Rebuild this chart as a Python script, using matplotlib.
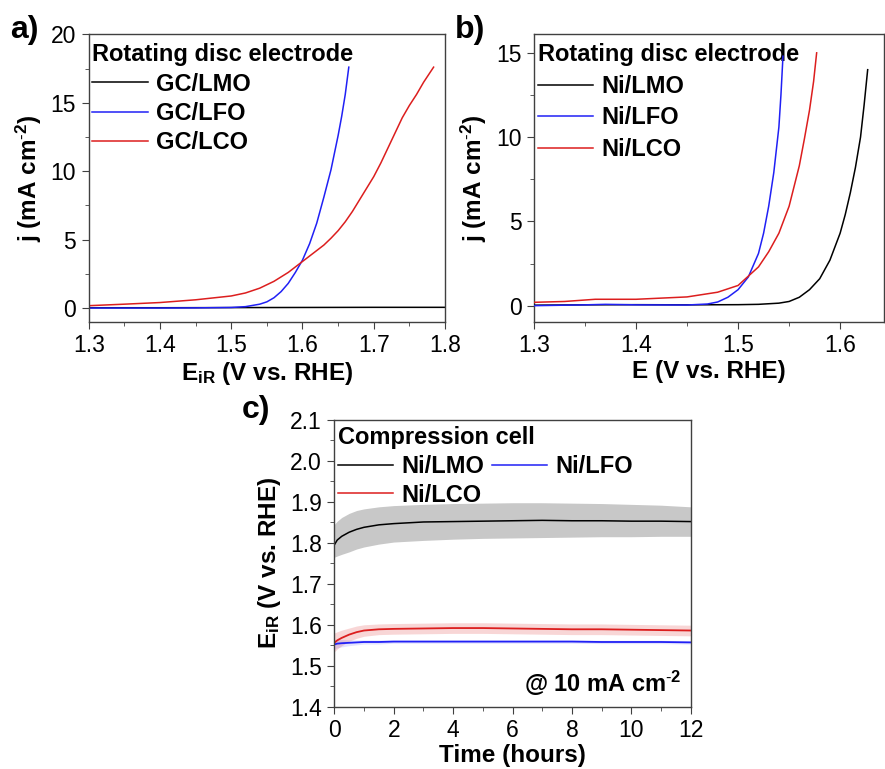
import matplotlib.pyplot as plt
from matplotlib.ticker import MultipleLocator
from matplotlib.lines import Line2D

plt.rcParams.update({
    'font.family': ['Liberation Sans', 'DejaVu Sans'],
    'font.size': 16.5,
    'mathtext.fontset': 'custom',
    'mathtext.rm': 'Liberation Sans',
    'mathtext.bf': 'Liberation Sans:bold',
    'mathtext.it': 'Liberation Sans:italic',
    'axes.linewidth': 1.0,
    'axes.edgecolor': '#404040',
    'xtick.color': '#404040',
    'ytick.color': '#404040',
    'xtick.labelcolor': 'black',
    'ytick.labelcolor': 'black',
    'xtick.labelsize': 16.5,
    'ytick.labelsize': 16.5,
    'xtick.direction': 'out',
    'ytick.direction': 'out',
    'xtick.major.size': 5,
    'ytick.major.size': 5,
    'xtick.minor.size': 3,
    'ytick.minor.size': 3,
    'xtick.major.pad': 4,
    'ytick.major.pad': 4,
})

BLACK = '#000000'
BLUE = '#2020f5'
RED = '#dc1e1e'

# ---- panel a: RDE on glassy carbon ----
a_lmo_E = [1.30, 1.40, 1.50, 1.60, 1.70, 1.80]
a_lmo_j = [0.02, 0.02, 0.03, 0.04, 0.05, 0.05]
a_lfo_E = [1.30, 1.40, 1.45, 1.50, 1.52, 1.54, 1.55, 1.56, 1.57, 1.58, 1.59,
           1.60, 1.61, 1.62, 1.63, 1.64, 1.65, 1.655, 1.66, 1.665]
a_lfo_j = [0.0, 0.0, 0.01, 0.04, 0.10, 0.28, 0.45, 0.75, 1.2, 1.8, 2.6,
           3.5, 4.7, 6.2, 8.1, 10.1, 12.6, 14.0, 15.6, 17.6]
a_lco_E = [1.30, 1.35, 1.40, 1.45, 1.50, 1.52, 1.54, 1.56, 1.58, 1.60, 1.62,
           1.63, 1.64, 1.65, 1.66, 1.67, 1.68, 1.69, 1.70, 1.71, 1.72, 1.73,
           1.74, 1.75, 1.76, 1.77, 1.784]
a_lco_j = [0.17, 0.28, 0.40, 0.60, 0.88, 1.1, 1.45, 1.95, 2.6, 3.4, 4.2,
           4.6, 5.1, 5.65, 6.3, 7.05, 7.9, 8.75, 9.6, 10.6, 11.7, 12.8,
           13.9, 14.8, 15.6, 16.5, 17.6]

# ---- panel b: RDE on Ni ----
b_lmo_E = [1.30, 1.35, 1.40, 1.45, 1.50, 1.52, 1.54, 1.55, 1.56, 1.57, 1.58,
           1.59, 1.60, 1.605, 1.61, 1.615, 1.62, 1.6235, 1.627]
b_lmo_j = [0.03, 0.05, 0.06, 0.05, 0.06, 0.08, 0.15, 0.25, 0.5, 0.95, 1.6,
           2.7, 4.3, 5.4, 6.7, 8.2, 10.0, 11.9, 14.0]
b_lfo_E = [1.30, 1.35, 1.37, 1.40, 1.45, 1.47, 1.48, 1.49, 1.50, 1.51, 1.52,
           1.525, 1.53, 1.535, 1.54, 1.542, 1.544]
b_lfo_j = [0.0, 0.05, 0.08, 0.05, 0.04, 0.10, 0.22, 0.5, 0.95, 1.7, 3.1,
           4.3, 5.9, 7.9, 10.6, 12.5, 14.8]
b_lco_E = [1.30, 1.33, 1.36, 1.40, 1.45, 1.48, 1.50, 1.52, 1.53, 1.54, 1.55,
           1.56, 1.565, 1.57, 1.574, 1.577]
b_lco_j = [0.20, 0.25, 0.38, 0.38, 0.52, 0.80, 1.2, 2.3, 3.2, 4.3, 5.9,
           8.3, 9.9, 11.6, 13.3, 15.0]

# ---- panel c: compression cell, chronopotentiometry ----
c_t = [0, 0.1, 0.25, 0.5, 0.75, 1, 1.5, 2, 3, 4, 5, 6, 7, 8, 9, 10, 11, 12]
lmo_mean = [1.795, 1.807, 1.816, 1.826, 1.833, 1.838, 1.844, 1.847, 1.851, 1.852,
            1.853, 1.854, 1.855, 1.854, 1.854, 1.853, 1.853, 1.852]
lmo_hi = [1.845, 1.853, 1.862, 1.872, 1.879, 1.883, 1.888, 1.891, 1.894, 1.896,
          1.897, 1.898, 1.898, 1.897, 1.896, 1.894, 1.892, 1.888]
lmo_lo = [1.765, 1.768, 1.772, 1.778, 1.785, 1.790, 1.797, 1.802, 1.806, 1.809,
          1.811, 1.812, 1.813, 1.814, 1.815, 1.815, 1.816, 1.816]
lco_mean = [1.556, 1.562, 1.568, 1.576, 1.582, 1.586, 1.589, 1.590, 1.591, 1.592,
            1.592, 1.591, 1.590, 1.589, 1.589, 1.588, 1.587, 1.586]
lco_hi = [1.580, 1.583, 1.587, 1.592, 1.597, 1.600, 1.602, 1.603, 1.604, 1.605,
          1.605, 1.604, 1.603, 1.602, 1.602, 1.601, 1.600, 1.599]
lco_lo = [1.534, 1.541, 1.549, 1.560, 1.567, 1.572, 1.576, 1.577, 1.578, 1.579,
          1.579, 1.578, 1.577, 1.576, 1.576, 1.575, 1.574, 1.573]
lfo_mean = [1.552, 1.554, 1.555, 1.556, 1.557, 1.558, 1.558, 1.559, 1.559, 1.559,
            1.559, 1.559, 1.559, 1.559, 1.558, 1.558, 1.558, 1.557]
lfo_hi = [1.564, 1.564, 1.564, 1.563, 1.563, 1.563, 1.563, 1.563, 1.563, 1.563,
          1.563, 1.563, 1.563, 1.563, 1.562, 1.562, 1.562, 1.561]
lfo_lo = [1.540, 1.544, 1.546, 1.549, 1.551, 1.553, 1.553, 1.555, 1.555, 1.555,
          1.555, 1.555, 1.555, 1.555, 1.554, 1.554, 1.554, 1.553]

fig = plt.figure(figsize=(8.85, 7.69), dpi=100)
W, H = 885, 769

J_LABEL = r'j (mA cm$^{\mathbf{\text{-}2}}$)'
EIR_LABEL = r'$\mathbf{E_{iR}}$ (V vs. RHE)'


def add_ax(left, top, right, bottom):
    return fig.add_axes([left / W, 1 - bottom / H, (right - left) / W, (bottom - top) / H])


def make_legend(ax, labels, colors, title, anchor, ncol=1, spacing=0.2):
    handles = [Line2D([], [], color=c, lw=1.1) for c in colors]
    leg = ax.legend(handles, labels, title=title, loc='upper left', bbox_to_anchor=anchor,
                    frameon=False, ncol=ncol, borderpad=0, borderaxespad=0,
                    handlelength=2.35, handletextpad=0.35, labelspacing=spacing,
                    columnspacing=0.3, alignment='left',
                    prop={'weight': 'bold', 'size': 17},
                    title_fontproperties={'weight': 'bold', 'size': 17})
    return leg


def style_axis(ax, xmaj, xmin, ymaj, ymin):
    ax.xaxis.set_major_locator(MultipleLocator(xmaj))
    ax.xaxis.set_minor_locator(MultipleLocator(xmin))
    ax.yaxis.set_major_locator(MultipleLocator(ymaj))
    ax.yaxis.set_minor_locator(MultipleLocator(ymin))


# a)
ax_a = add_ax(88.7, 34.3, 445, 321.7)
ax_a.plot(a_lmo_E, a_lmo_j, color=BLACK, lw=1.1)
ax_a.plot(a_lfo_E, a_lfo_j, color=BLUE, lw=1.1)
ax_a.plot(a_lco_E, a_lco_j, color=RED, lw=1.1)
ax_a.set_xlim(1.3, 1.8)
ax_a.set_ylim(-1, 20)
style_axis(ax_a, 0.1, 0.05, 5, 2.5)
ax_a.set_xlabel(EIR_LABEL, fontsize=17.5, fontweight='bold', labelpad=2)
ax_a.set_ylabel(J_LABEL, fontsize=17.5, fontweight='bold', labelpad=5)
make_legend(ax_a, ['GC/LMO', 'GC/LFO', 'GC/LCO'], [BLACK, BLUE, RED],
            'Rotating disc electrode', (0.01, 0.968), spacing=0.26)

# b)
ax_b = add_ax(534, 34.3, 884, 321.7)
ax_b.plot(b_lmo_E, b_lmo_j, color=BLACK, lw=1.1, zorder=3)
ax_b.plot(b_lfo_E, b_lfo_j, color=BLUE, lw=1.1, zorder=3)
ax_b.plot(b_lco_E, b_lco_j, color=RED, lw=1.1, zorder=3)
ax_b.set_xlim(1.3, 1.643)
ax_b.set_ylim(-0.95, 16.1)
style_axis(ax_b, 0.1, 0.05, 5, 2.5)
ax_b.set_xlabel('E (V vs. RHE)', fontsize=17.5, fontweight='bold', labelpad=2)
ax_b.set_ylabel(J_LABEL, fontsize=17.5, fontweight='bold', labelpad=5)
leg_b = make_legend(ax_b, ['Ni/LMO', 'Ni/LFO', 'Ni/LCO'], [BLACK, BLUE, RED],
                    'Rotating disc electrode', (0.01, 0.968), spacing=0.36)
leg_b.set_zorder(2)

# c)
ax_c = add_ax(334.3, 420, 690.7, 706.7)
ax_c.fill_between(c_t, lmo_lo, lmo_hi, color='#c8c8c8', lw=0)
ax_c.fill_between(c_t, lco_lo, lco_hi, color=RED, alpha=0.18, lw=0)
ax_c.fill_between(c_t, lfo_lo, lfo_hi, color=BLUE, alpha=0.12, lw=0)
ax_c.plot(c_t, lmo_mean, color=BLACK, lw=1.1)
ax_c.plot(c_t, lco_mean, color=RED, lw=1.3)
ax_c.plot(c_t, lfo_mean, color=BLUE, lw=1.3)
ax_c.set_xlim(0, 12)
ax_c.set_ylim(1.4, 2.1)
style_axis(ax_c, 2, 1, 0.1, 0.05)
ax_c.set_xlabel('Time (hours)', fontsize=17.5, fontweight='bold', labelpad=1.5)
ax_c.set_ylabel(EIR_LABEL, fontsize=17.5, fontweight='bold', labelpad=5)
make_legend(ax_c, ['Ni/LMO', 'Ni/LCO', 'Ni/LFO'], [BLACK, RED, BLUE],
            'Compression cell', (0.01, 0.978), ncol=2, spacing=0.24)
ax_c.text(0.975, 0.03, r'@ 10 mA cm$^{\mathbf{\text{-}2}}$', transform=ax_c.transAxes,
          ha='right', va='bottom', fontsize=17, fontweight='bold')

# panel letters
fig.text(10 / W, 1 - 15 / H, 'a)', fontsize=23, fontweight='bold', va='top', ha='left')
fig.text(455 / W, 1 - 15 / H, 'b)', fontsize=23, fontweight='bold', va='top', ha='left')
fig.text(242 / W, 1 - 395 / H, 'c)', fontsize=23, fontweight='bold', va='top', ha='left')

fig.savefig('out.png', dpi=100)
